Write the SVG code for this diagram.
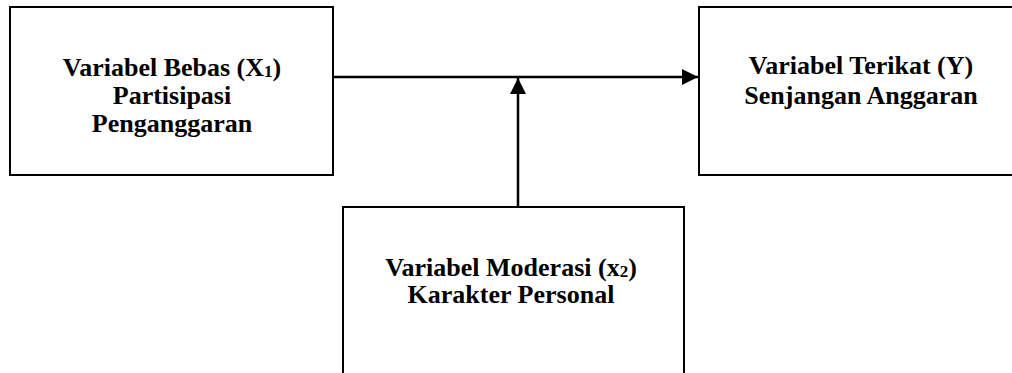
<svg xmlns="http://www.w3.org/2000/svg" width="1012" height="373" viewBox="0 0 1012 373">
<style>
.box{fill:#fff;stroke:#000;stroke-width:2}
.t{font-family:"Liberation Serif","Times New Roman",serif;font-weight:bold;font-size:26px;text-anchor:middle;fill:#000}
.sub{font-size:17px}
.c{stroke:#000;stroke-width:2.5;fill:none}
</style>
<defs>
<marker id="ah" markerWidth="16" markerHeight="16" viewBox="0 0 16 16" refX="16" refY="8" orient="auto" markerUnits="userSpaceOnUse">
<path d="M0,0 L16,8 L0,16 Z" fill="#000"/>
</marker>
</defs>
<rect width="1012" height="373" fill="#fff"/>
<g id="node-x1">
<rect class="box" x="10" y="7" width="323" height="168"/>
<text class="t" x="172" y="76">Variabel Bebas (X<tspan class="sub" dy="1">1</tspan><tspan dy="-1">)</tspan></text>
<text class="t" x="172" y="104">Partisipasi</text>
<text class="t" x="172" y="131.5">Penganggaran</text>
</g>
<g id="node-y">
<rect class="box" x="699" y="7" width="330" height="168"/>
<text class="t" x="861" y="74">Variabel Terikat (Y)</text>
<text class="t" x="861" y="104">Senjangan Anggaran</text>
</g>
<g id="node-x2">
<rect class="box" x="343" y="207" width="341" height="180"/>
<text class="t" x="511" y="275.5">Variabel Moderasi (x<tspan class="sub" dy="1">2</tspan><tspan dy="-1">)</tspan></text>
<text class="t" x="511" y="302.5">Karakter Personal</text>
</g>
<g id="connectors">
<line class="c" x1="333" y1="77" x2="698" y2="77" marker-end="url(#ah)"/>
<line class="c" x1="518" y1="207" x2="518" y2="78" marker-end="url(#ah)"/>
</g>
</svg>
